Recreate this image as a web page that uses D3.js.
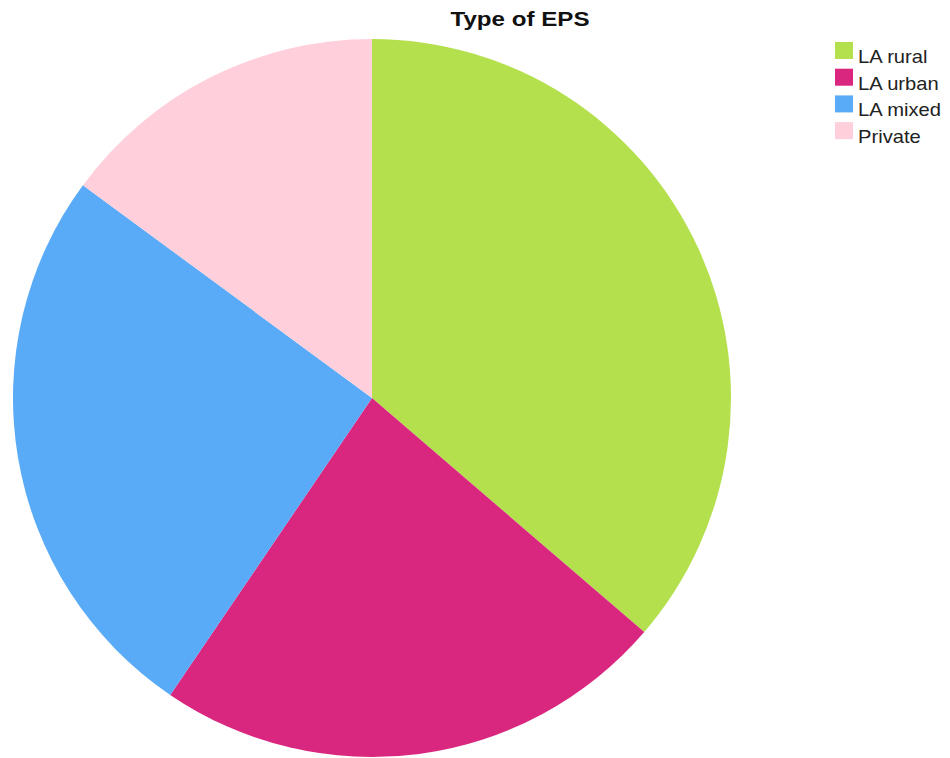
<!DOCTYPE html>
<html>
<head>
<meta charset="utf-8">
<script src="https://cdn.jsdelivr.net/npm/d3@7"></script>
<style>
  body { margin: 0; background: #fff; }
  svg { display: block; font-family: "Liberation Sans", Arial, sans-serif; }
</style>
</head>
<body>
<div id="chart"><svg width="950" height="758"></svg></div>
<script>
const categories = ['LA rural', 'LA urban', 'LA mixed', 'Private'];
const shares = [36.3, 23.2, 25.6, 14.9];
const colors = ['#b5e04e', '#d9267f', '#5aabf7', '#ffd0dc'];

const svg = d3.select('#chart svg');

const CX = 372;
const CY = 398;
const R = 359;

const data = categories.map((c, i) => ({ name: c, value: shares[i], color: colors[i] }));

const pie = d3.pie().sort(null).value(d => d.value);
const arc = d3.arc().innerRadius(0).outerRadius(R);

svg.append('g')
  .attr('transform', `translate(${CX},${CY})`)
  .selectAll('path')
  .data(pie(data))
  .join('path')
  .attr('d', arc)
  .attr('fill', d => d.data.color);

// the reference text is a bit wider than Liberation Sans, so stretch it
svg.append('text')
  .text('Type of EPS')
  .attr('transform', 'translate(520,26) scale(1.15,1)')
  .style('text-anchor', 'middle')
  .style('font-size', '21px')
  .style('font-weight', 'bold')
  .attr('fill', '#111');

const legend = svg.append('g')
  .attr('transform', 'translate(835,42)')
  .selectAll('g')
  .data(data)
  .join('g')
  .attr('transform', (d, i) => `translate(0,${i * 26.7})`);

legend.append('rect')
  .attr('width', 18)
  .attr('height', 17)
  .attr('fill', d => d.color);

legend.append('text')
  .text(d => d.name)
  .attr('transform', 'translate(23,21) scale(1.12,1)')
  .style('font-size', '18px')
  .attr('fill', '#222');
</script>
</body>
</html>
